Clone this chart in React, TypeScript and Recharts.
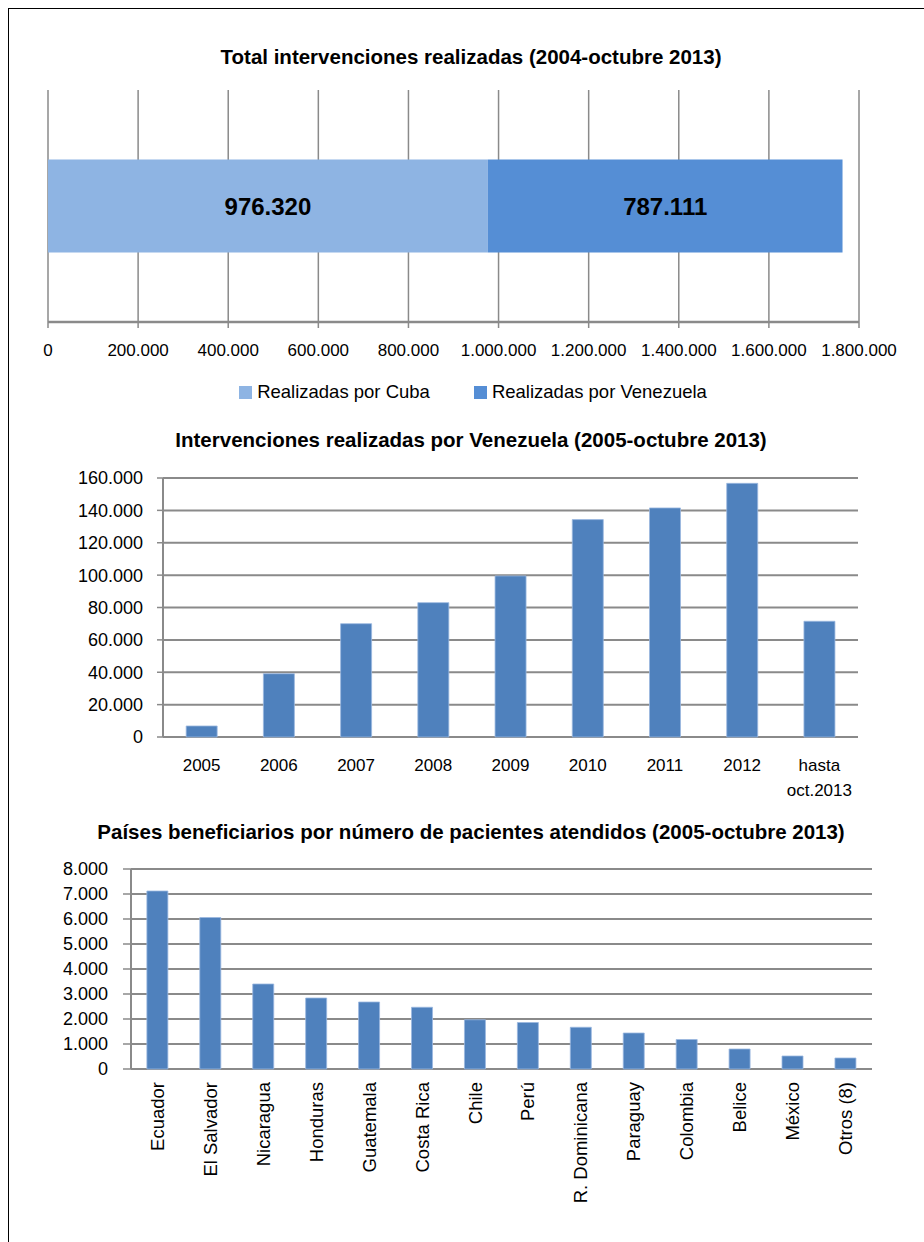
import React from "react";
import {
  BarChart,
  Bar,
  XAxis,
  YAxis,
  CartesianGrid,
  Legend,
  LabelList,
} from "recharts";

// --- Datos ---
const totalCategories = ["Total"];
const cubaValues = [976320];
const venezuelaValues = [787111];
const totalTicks = [0, 200000, 400000, 600000, 800000, 1000000, 1200000, 1400000, 1600000, 1800000];

const yearLabels = ["2005", "2006", "2007", "2008", "2009", "2010", "2011", "2012", "hasta oct.2013"];
const venezuelaByYear = [6800, 39100, 70000, 83000, 99500, 134300, 141500, 156700, 71500];
const yearTicks = [0, 20000, 40000, 60000, 80000, 100000, 120000, 140000, 160000];

const countries = [
  "Ecuador",
  "El Salvador",
  "Nicaragua",
  "Honduras",
  "Guatemala",
  "Costa Rica",
  "Chile",
  "Perú",
  "R. Dominicana",
  "Paraguay",
  "Colombia",
  "Belice",
  "México",
  "Otros (8)",
];
const patients = [7120, 6060, 3400, 2840, 2680, 2470, 1970, 1860, 1670, 1440, 1180, 800, 520, 440];
const countryTicks = [0, 1000, 2000, 3000, 4000, 5000, 6000, 7000, 8000];

// tablas para recharts
const totalData = totalCategories.map((name, i) => ({
  name,
  cuba: cubaValues[i],
  venezuela: venezuelaValues[i],
}));
const yearData = yearLabels.map((name, i) => ({ name, value: venezuelaByYear[i] }));
const countryData = countries.map((name, i) => ({ name, value: patients[i] }));

const FONT = "'Liberation Sans', Arial, sans-serif";
const GRID = "#8a8a8a";
const BLUE = "#4f81bd";

const fmt = (n: number) => String(n).replace(/\B(?=(\d{3})+(?!\d))/g, ".");
const range = (n: number) => Array.from({ length: n + 1 }, (_, i) => i);

const tickStyle = { fontSize: 17, fill: "#000", fontFamily: FONT };
const yTickStyle = { fontSize: 18, fill: "#000", fontFamily: FONT };

const Title = ({ top, children }: { top: number; children: React.ReactNode }) => (
  <div
    style={{
      position: "absolute",
      left: 0,
      top,
      width: 942,
      textAlign: "center",
      fontFamily: FONT,
      fontWeight: "bold",
      fontSize: 20.5,
      lineHeight: "22px",
      color: "#000",
    }}
  >
    {children}
  </div>
);

const TotalLegend = () => (
  <div style={{ display: "flex", justifyContent: "center", gap: 44, fontFamily: FONT, fontSize: 18.5 }}>
    {[
      { label: "Realizadas por Cuba", color: "#8eb4e3" },
      { label: "Realizadas por Venezuela", color: "#558ed5" },
    ].map((it) => (
      <div key={it.label} style={{ display: "flex", alignItems: "center" }}>
        <span style={{ width: 13, height: 13, background: it.color, display: "inline-block", marginRight: 5 }} />
        <span>{it.label}</span>
      </div>
    ))}
  </div>
);

const YearTick = ({ x, y, payload }: any) => {
  const parts = String(payload.value).split(" ");
  return (
    <text x={x} y={y} textAnchor="middle" style={tickStyle}>
      {parts.map((p, i) => (
        <tspan key={i} x={x} y={y + 34 + i * 25}>
          {p}
        </tspan>
      ))}
    </text>
  );
};

const CountryTick = ({ x, y, payload }: any) => (
  <text
    x={x}
    y={y + 13}
    dy="0.35em"
    textAnchor="end"
    transform={`rotate(-90, ${x}, ${y + 13})`}
    style={{ fontSize: 18.5, fill: "#000", fontFamily: FONT }}
  >
    {payload.value}
  </text>
);

export default function App() {
  return (
    <div style={{ position: "absolute", left: 0, top: 0, width: 924, height: 1242, background: "#fff" }}>
      <div
        style={{
          position: "absolute",
          left: 8,
          top: 8,
          width: 916,
          height: 1234,
          borderTop: "1.5px solid #000",
          borderLeft: "1.5px solid #000",
        }}
      />

      {/* Gráfico 1 */}
      <Title top={46}>Total intervenciones realizadas (2004-octubre 2013)</Title>
      <div style={{ position: "absolute", left: 0, top: 0 }}>
        <BarChart
          width={924}
          height={420}
          data={totalData}
          layout="vertical"
          margin={{ top: 90, right: 65, left: 48, bottom: 58 }}
          barCategoryGap="30%"
        >
          <CartesianGrid horizontal={false} stroke={GRID} strokeWidth={1.5} />
          <XAxis
            type="number"
            domain={[0, 1800000]}
            ticks={totalTicks}
            tickFormatter={fmt}
            interval={0}
            height={40}
            stroke={GRID}
            axisLine={{ stroke: GRID, strokeWidth: 2.5 }}
            tickLine={{ stroke: GRID, strokeWidth: 1.5 }}
            tickSize={6}
            tickMargin={16}
            tick={tickStyle}
          />
          <YAxis type="category" dataKey="name" hide />
          <Legend
            layout="horizontal"
            verticalAlign="middle"
            align="center"
            content={<TotalLegend />}
            wrapperStyle={{ top: 381, left: 11, width: 924 }}
          />
          <Bar dataKey="cuba" stackId="t" fill="#8eb4e3" isAnimationActive={false}>
            <LabelList
              dataKey="cuba"
              position="center"
              formatter={(v: any) => fmt(Number(v))}
              style={{ fontSize: 24, fontWeight: "bold", fill: "#000", fontFamily: FONT }}
            />
          </Bar>
          <Bar dataKey="venezuela" stackId="t" fill="#558ed5" isAnimationActive={false}>
            <LabelList
              dataKey="venezuela"
              position="center"
              formatter={(v: any) => fmt(Number(v))}
              style={{ fontSize: 24, fontWeight: "bold", fill: "#000", fontFamily: FONT }}
            />
          </Bar>
        </BarChart>
      </div>

      {/* Gráfico 2 */}
      <Title top={429}>Intervenciones realizadas por Venezuela (2005-octubre 2013)</Title>
      <div style={{ position: "absolute", left: 0, top: 460 }}>
        <BarChart
          width={924}
          height={360}
          data={yearData}
          margin={{ top: 18, right: 66, left: 0, bottom: 23 }}
          barCategoryGap="30%"
        >
          <CartesianGrid vertical={false} stroke={GRID} strokeWidth={2} />
          <XAxis
            xAxisId="edges"
            type="number"
            domain={[0, yearLabels.length]}
            allowDataOverflow
            ticks={range(yearLabels.length)}
            interval={0}
            height={0}
            tick={false}
            axisLine={{ stroke: GRID, strokeWidth: 2 }}
            tickLine={{ stroke: GRID, strokeWidth: 1.5 }}
            tickSize={7}
          />
          <XAxis
            dataKey="name"
            interval={0}
            height={60}
            axisLine={false}
            tickLine={false}
            tickSize={0}
            tickMargin={0}
            tick={<YearTick />}
          />
          <YAxis
            domain={[0, 160000]}
            ticks={yearTicks}
            interval={0}
            tickFormatter={fmt}
            width={163}
            axisLine={{ stroke: GRID, strokeWidth: 2 }}
            tickLine={{ stroke: GRID, strokeWidth: 1.5 }}
            tickSize={6}
            tickMargin={14}
            tick={yTickStyle}
          />
          <Bar dataKey="value" fill={BLUE} stroke="#9bb8e0" strokeWidth={0.8} isAnimationActive={false} />
        </BarChart>
      </div>

      {/* Gráfico 3 */}
      <Title top={821}>Países beneficiarios por número de pacientes atendidos (2005-octubre 2013)</Title>
      <div style={{ position: "absolute", left: 0, top: 850 }}>
        <BarChart
          width={924}
          height={392}
          data={countryData}
          margin={{ top: 19, right: 52, left: 0, bottom: 23 }}
          barCategoryGap="30%"
        >
          <CartesianGrid vertical={false} stroke={GRID} strokeWidth={2} />
          <XAxis
            xAxisId="edges"
            type="number"
            domain={[0, countries.length]}
            allowDataOverflow
            ticks={range(countries.length)}
            interval={0}
            height={0}
            tick={false}
            axisLine={{ stroke: GRID, strokeWidth: 2 }}
            tickLine={{ stroke: GRID, strokeWidth: 1.5 }}
            tickSize={7}
          />
          <XAxis
            dataKey="name"
            interval={0}
            height={150}
            axisLine={false}
            tickLine={false}
            tickSize={0}
            tickMargin={0}
            tick={<CountryTick />}
          />
          <YAxis
            domain={[0, 8000]}
            ticks={countryTicks}
            interval={0}
            tickFormatter={fmt}
            width={131}
            axisLine={{ stroke: GRID, strokeWidth: 2 }}
            tickLine={{ stroke: GRID, strokeWidth: 1.5 }}
            tickSize={8}
            tickMargin={15}
            tick={yTickStyle}
          />
          <Bar dataKey="value" fill={BLUE} stroke="#9bb8e0" strokeWidth={0.8} isAnimationActive={false} />
        </BarChart>
      </div>
    </div>
  );
}
